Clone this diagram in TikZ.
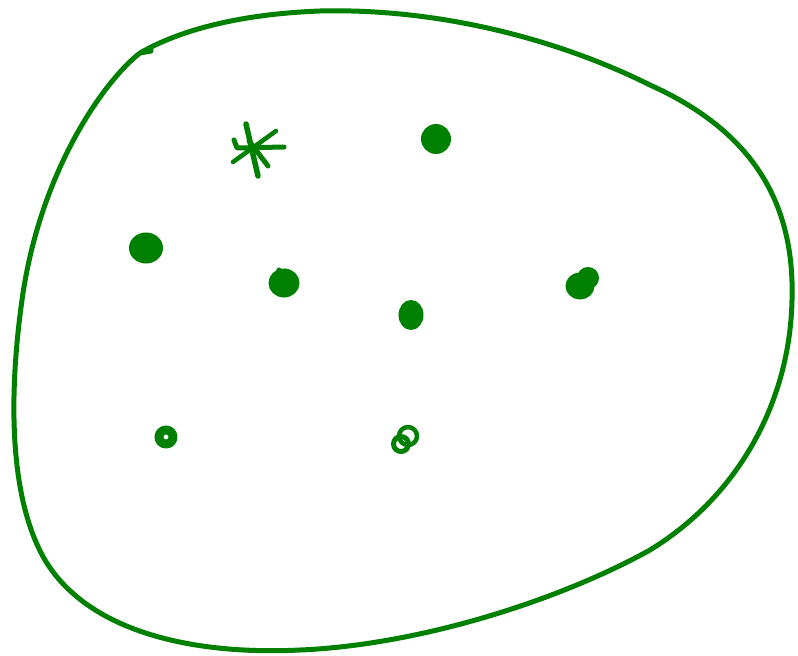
\documentclass[tikz,border=0pt]{standalone}
\definecolor{pen}{RGB}{0,128,0}
\begin{document}
\begin{tikzpicture}[x=1pt,y=-1pt,
  ink/.style={draw=pen,line width=5pt,line cap=round,line join=round},
  blob/.style={fill=pen,draw=pen,line width=3pt}]
\useasboundingbox (0,0) rectangle (798,656);
% outline
\draw[ink] (151,51) -- (140,53)
  .. controls (105,80) and (40,170) .. (22,300)
  .. controls (8,400) and (10,500) .. (45,560)
  .. controls (90,635) and (200,655) .. (300,650)
  .. controls (420,645) and (560,600) .. (650,550)
  .. controls (740,495) and (790,400) .. (792,300)
  .. controls (795,200) and (750,130) .. (650,85)
  .. controls (560,40) and (440,8) .. (320,11)
  .. controls (240,14) and (180,30) .. (140,53);
% asterisk
\coordinate (s1a) at (246,124); \coordinate (s1b) at (258,176);
\coordinate (s2a) at (233,162); \coordinate (s2b) at (276,131);
\coordinate (s3a) at (234,140); \coordinate (s3c) at (237,148); \coordinate (s3b) at (284,147);
\coordinate (s4a) at (249,141); \coordinate (s4b) at (268,166);
\draw[ink,line width=5.5pt] (s1a) -- (s1b);
\draw[ink,line width=4.5pt] (s2a) -- (s2b);
\draw[ink,line width=5pt] (s3a) -- (s3c) -- (s3b);
\draw[ink,line width=5pt] (s4a) -- (s4b);
% dots
\fill[blob] (436,139) ellipse (13.5 and 13.5);
\fill[blob] (146,248) ellipse (15.5 and 14);
\fill[blob] (284,283) ellipse (14 and 13);
\draw[ink,line width=5pt] (276,280) -- (279,270);
\fill[blob] (411,315) ellipse (11 and 13.5);
\fill[blob] (580,286) ellipse (13 and 12);
\fill[blob] (588,278) circle (9.5);
\draw[ink,line width=9pt] (166,437) circle (7);
\draw[ink,line width=5pt] (401,444) circle (7.5);
\draw[ink,line width=4.5pt] (408,436) circle (9);
\end{tikzpicture}
\end{document}
